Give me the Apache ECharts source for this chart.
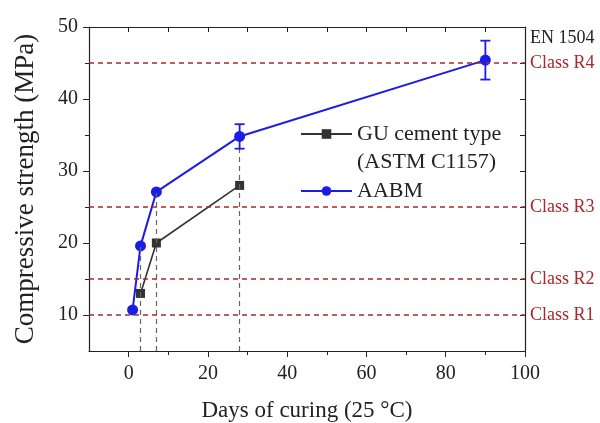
<!DOCTYPE html>
<html>
<head>
<meta charset="utf-8">
<script src="https://cdn.jsdelivr.net/npm/echarts@6/dist/echarts.min.js"></script>
<style>html,body{margin:0;padding:0;background:#fff}#c{width:600px;height:423px}</style>
</head>
<body>
<div id="c"></div>
<script>
// ---- data ----
const guDays = [3, 7, 28];
const guStrength = [13.0, 20.0, 28.0];
const aabmDays = [1, 3, 7, 28, 90];
const aabmStrength = [10.7, 19.6, 27.1, 34.8, 45.4];
const aabmError = [0, 0, 0, 1.7, 2.7];
const guideDays = [3, 7, 28];
const guideTop = [19.6, 27.1, 33.1];
const classLevels = [10, 15, 25, 45];
const classNames = ['Class R1', 'Class R2', 'Class R3', 'Class R4'];
const standardName = 'EN 1504';
const standardPos = [100, 48.4];
const xMajor = [0, 20, 40, 60, 80, 100];
const xMinor = [10, 30, 50, 70, 90];
const yMajor = [10, 20, 30, 40, 50];
const yMinor = [15, 25, 35, 45];
const guName = 'GU cement type';
const guName2 = '(ASTM C1157)';
const aabmName = 'AABM';

const FONT = 'Liberation Serif';
const RED = '#a8282c';
const BLUE = '#1c1ce6';
const GRAY = '#333333';

const chart = echarts.init(document.getElementById('c'), null, {renderer: 'canvas'});

const xBase = {type: 'value', min: -10, max: 100, splitLine: {show: false}};
const yBase = {type: 'value', min: 5, max: 50, splitLine: {show: false}};
const axisLine = {show: true, onZero: false, lineStyle: {color: '#222', width: 1.2}};
const noLine = {show: false, onZero: false};

const option = {
  backgroundColor: '#fff',
  animation: false,
  grid: {left: 89, right: 75, top: 27, bottom: 72, containLabel: false, outerBoundsMode: 'none'},
  xAxis: [
    Object.assign({}, xBase, {
      position: 'bottom', axisLine,
      axisTick: {show: true, inside: false, length: 6, customValues: xMajor, lineStyle: {color: '#222'}},
      axisLabel: {customValues: xMajor, fontFamily: FONT, fontSize: 20, color: '#222', margin: 13},
      name: 'Days of curing (25 °C)', nameLocation: 'middle', nameGap: 48,
      nameTextStyle: {fontFamily: FONT, fontSize: 23, color: '#222'}
    }),
    Object.assign({}, xBase, {
      position: 'bottom', axisLine: noLine,
      axisTick: {show: true, inside: false, length: 4, customValues: xMinor, lineStyle: {color: '#222'}},
      axisLabel: {show: false}
    }),
    Object.assign({}, xBase, {
      position: 'top', axisLine,
      axisTick: {show: true, inside: true, length: 5, customValues: xMajor.concat(xMinor), lineStyle: {color: '#222'}},
      axisLabel: {show: false}
    })
  ],
  yAxis: [
    Object.assign({}, yBase, {
      position: 'left', axisLine,
      axisTick: {show: true, inside: false, length: 6, customValues: yMajor, lineStyle: {color: '#222'}},
      axisLabel: {customValues: yMajor, fontFamily: FONT, fontSize: 20, color: '#222', margin: 11},
      name: 'Compressive strength (MPa)', nameLocation: 'middle', nameGap: 50,
      nameTextStyle: {fontFamily: FONT, fontSize: 27, color: '#222'}
    }),
    Object.assign({}, yBase, {
      position: 'left', axisLine: noLine,
      axisTick: {show: true, inside: false, length: 4, customValues: yMinor, lineStyle: {color: '#222'}},
      axisLabel: {show: false}
    }),
    Object.assign({}, yBase, {
      position: 'right', axisLine,
      axisTick: {show: true, inside: true, length: 5, customValues: yMajor.concat(yMinor), lineStyle: {color: '#222'}},
      axisLabel: {show: false}
    })
  ],
  legend: [
    {
      data: [guName], left: 300, top: 92, padding: 0,
      itemWidth: 51, itemHeight: 12,
      formatter: () => ' \n' + guName + '\n' + guName2,
      textStyle: {fontFamily: FONT, fontSize: 22, color: '#222', lineHeight: 28}
    },
    {
      data: [aabmName], left: 300, top: 177, padding: 0,
      itemWidth: 51, itemHeight: 12,
      textStyle: {fontFamily: FONT, fontSize: 22, color: '#222', lineHeight: 28}
    }
  ],
  series: [
    {
      name: guName, type: 'line', xAxisIndex: 0, yAxisIndex: 0,
      data: guDays.map((d, i) => [d, guStrength[i]]),
      symbol: 'rect', symbolSize: 9,
      lineStyle: {color: GRAY, width: 1.6}, itemStyle: {color: GRAY},
      z: 3,
      markLine: {
        silent: true, symbol: ['none', 'none'], animation: false,
        lineStyle: {color: '#666', type: [5, 4], width: 1.2},
        label: {show: false},
        data: guideDays.map((d, i) => [{coord: [d, 5]}, {coord: [d, guideTop[i]]}])
      }
    },
    {
      name: aabmName, type: 'line', xAxisIndex: 0, yAxisIndex: 0,
      data: aabmDays.map((d, i) => [d, aabmStrength[i]]),
      symbol: 'circle', symbolSize: 11,
      lineStyle: {color: BLUE, width: 2}, itemStyle: {color: BLUE},
      z: 4,
      markLine: {
        silent: true, symbol: ['none', 'none'], animation: false,
        lineStyle: {color: RED, type: [5, 4], width: 1.5},
        label: {show: true, position: 'end', distance: 5, fontFamily: FONT, fontSize: 18, color: RED,
          formatter: p => p.name},
        data: classLevels.map((v, i) => ({yAxis: v, name: classNames[i]}))
      },
      markPoint: {
        silent: true, animation: false,
        symbol: 'circle', symbolSize: 0,
        label: {show: true, position: 'right', distance: 5, fontFamily: FONT, fontSize: 18, color: '#222',
          formatter: p => p.name},
        data: [{coord: standardPos, name: standardName}]
      }
    },
    {
      name: 'err', type: 'custom', xAxisIndex: 0, yAxisIndex: 0, z: 5,
      data: aabmDays.map((d, i) => [d, aabmStrength[i] - aabmError[i], aabmStrength[i] + aabmError[i]])
        .filter((r, i) => aabmError[i] > 0),
      renderItem: function (params, api) {
        const lo = api.coord([api.value(0), api.value(1)]);
        const hi = api.coord([api.value(0), api.value(2)]);
        const w = 5;
        const st = {stroke: BLUE, lineWidth: 1.8};
        return {type: 'group', children: [
          {type: 'line', shape: {x1: lo[0], y1: lo[1], x2: hi[0], y2: hi[1]}, style: st},
          {type: 'line', shape: {x1: lo[0] - w, y1: lo[1], x2: lo[0] + w, y2: lo[1]}, style: st},
          {type: 'line', shape: {x1: hi[0] - w, y1: hi[1], x2: hi[0] + w, y2: hi[1]}, style: st}
        ]};
      }
    }
  ]
};
chart.setOption(option);
</script>
</body>
</html>
